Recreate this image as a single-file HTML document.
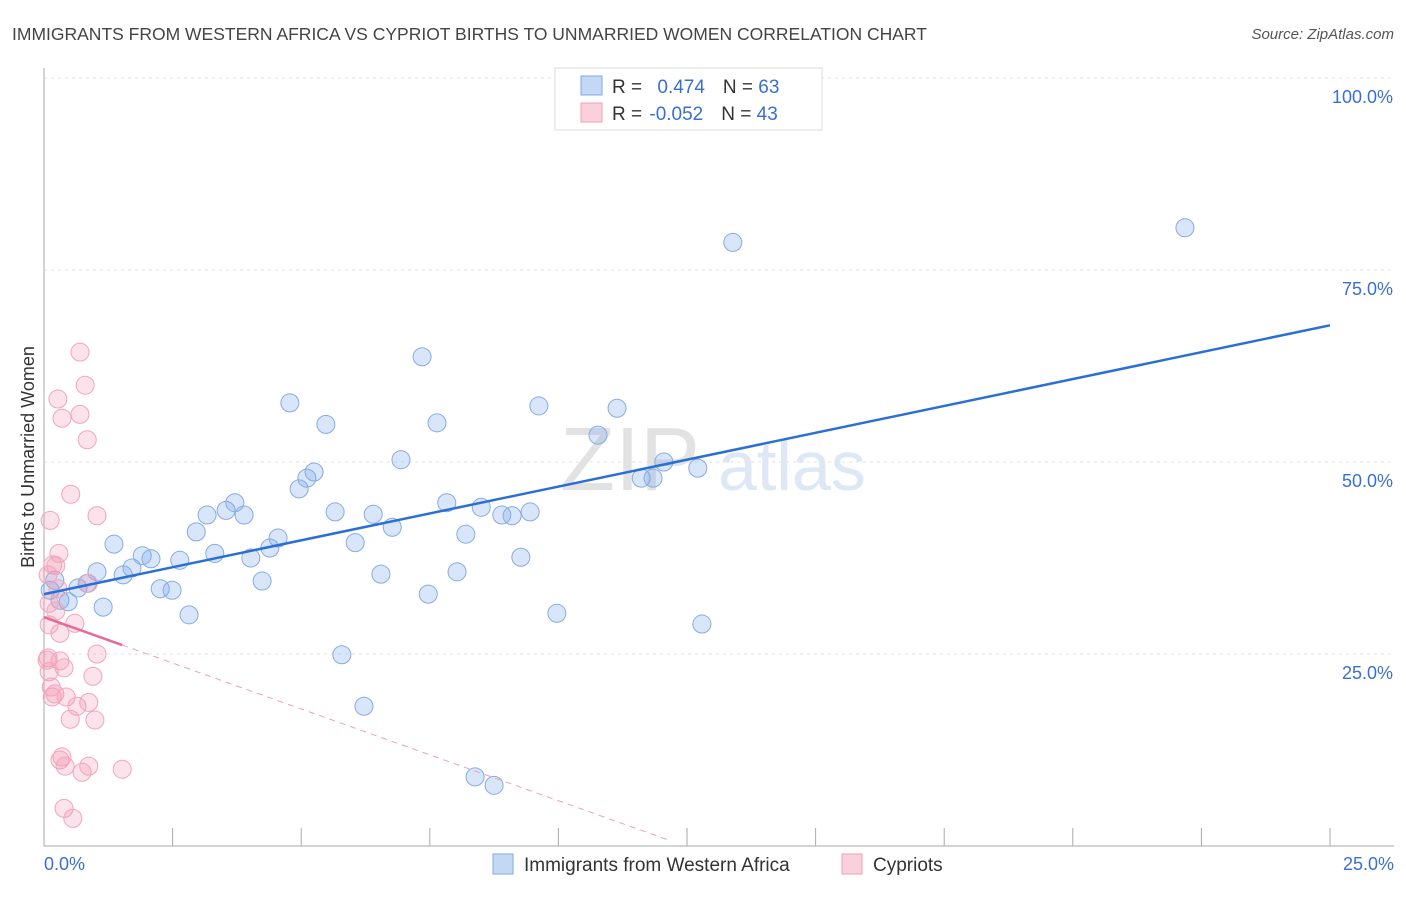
<!DOCTYPE html>
<html><head><meta charset="utf-8"><style>
body{margin:0;background:#fff;font-family:"Liberation Sans",sans-serif}
svg text{font-family:"Liberation Sans",sans-serif}
</style></head><body>
<svg id="chart" width="1406" height="892">
<text x="12" y="40" font-size="17.5" fill="#444">IMMIGRANTS FROM WESTERN AFRICA VS CYPRIOT BIRTHS TO UNMARRIED WOMEN CORRELATION CHART</text>
<text x="1394" y="39" font-size="15" fill="#555" font-style="italic" text-anchor="end">Source: ZipAtlas.com</text>
<text x="560" y="490" font-size="90" fill="#e2e2e2" font-family="Liberation Serif">ZIP</text>
<text x="718" y="490" font-size="70" fill="#dde7f6">atlas</text>
<g id="grid"></g>
<g id="axes"></g>
<text transform="translate(34,457) rotate(-90)" font-size="18" fill="#333" text-anchor="middle">Births to Unmarried Women</text>
<g id="marks"></g>
<g>
<rect x="555" y="68" width="267" height="62" fill="#fff" stroke="#ddd"/>
<rect x="581" y="76" width="21" height="19" fill="#c4d8f5" stroke="#7fa8e0"/>
<rect x="581" y="103" width="21" height="19" fill="#fad0dc" stroke="#f0a0b8"/>
<text x="612" y="93" font-size="19" fill="#333">R = <tspan fill="#3a6fd0" dx="10">0.474</tspan><tspan dx="18" fill="#333">N = </tspan><tspan fill="#3a6fd0">63</tspan></text>
<text x="612" y="120" font-size="19" fill="#333">R = <tspan fill="#3a6fd0" dx="2">-0.052</tspan><tspan dx="18" fill="#333">N = </tspan><tspan fill="#3a6fd0">43</tspan></text>
</g>
<g>
<rect x="493" y="854" width="20" height="20" fill="#c4d8f5" stroke="#7fa8e0"/>
<text x="524" y="871" font-size="19" fill="#333">Immigrants from Western Africa</text>
<rect x="842" y="854" width="20" height="20" fill="#fad0dc" stroke="#f0a0b8"/>
<text x="873" y="871" font-size="19" fill="#333">Cypriots</text>
</g>
</svg>
<script>
const yTicks=[25,50,75,100];
const xTickVals=[0,2.5,5,7.5,10,12.5,15,17.5,20,22.5,25];
const blueX=[0.12,0.21,0.31,0.47,0.66,0.84,1.03,1.15,1.36,1.54,1.71,1.91,2.08,2.26,2.49,2.64,2.82,2.96,3.17,3.32,3.54,3.71,3.89,4.02,4.24,4.39,4.55,4.78,4.96,5.11,5.25,5.48,5.66,5.79,6.05,6.22,6.40,6.55,6.77,6.94,7.35,7.47,7.64,7.83,8.03,8.20,8.38,8.50,8.75,8.90,9.10,9.27,9.45,9.62,9.97,10.77,11.14,11.61,11.84,12.05,12.71,12.79,13.39,22.18];
const blueY=[33.3,34.6,32.0,31.8,33.6,34.2,35.7,31.1,39.3,35.3,36.2,37.8,37.4,33.5,33.3,37.2,30.1,40.9,43.1,38.1,43.7,44.7,43.1,37.5,34.5,38.8,40.1,57.7,46.5,47.9,48.7,54.9,43.5,24.9,39.5,18.2,43.2,35.4,41.5,50.3,63.7,32.8,55.1,44.7,35.7,40.6,9.0,44.1,7.9,43.1,43.0,37.6,43.5,57.3,30.3,53.5,57.0,47.9,47.9,50.0,49.2,28.9,78.6,80.5];
const pinkX=[0.10,0.12,0.10,0.08,0.10,0.16,0.21,0.17,0.23,0.27,0.29,0.27,0.31,0.31,0.35,0.39,0.35,0.31,0.39,0.41,0.43,0.51,0.52,0.56,0.60,0.64,0.70,0.70,0.74,0.80,0.84,0.86,0.87,0.87,0.95,0.99,1.03,1.03,1.52,0.08,0.14,0.23,0.06];
const pinkY=[31.6,42.4,28.8,24.5,22.7,19.4,19.8,36.6,36.5,58.2,38.1,33.5,27.7,24.1,55.7,23.2,11.6,11.2,4.9,10.4,19.4,16.5,45.8,3.6,29.0,18.2,56.2,64.3,9.6,60.0,52.9,34.2,18.7,10.4,22.1,16.4,25.0,43.0,10.0,35.3,20.7,30.6,24.2];
const blueTrend=[32.8,67.8];
const pinkTrend=[29.8,0.8];
const pinkSolidEnd=1.52, pinkDashEnd=12.13;
const X=v=>44+v/25*1286, Y=v=>846-v/100*768;
const NS="http://www.w3.org/2000/svg";
function mk(p,t,a){const e=document.createElementNS(NS,t);for(const k in a)e.setAttribute(k,a[k]);document.getElementById(p).appendChild(e);return e;}
yTicks.forEach(t=>{
 const l=mk('grid','line',{x1:44,x2:1394,y1:Y(t),y2:Y(t),stroke:'#e2e2e2','stroke-dasharray':'3,4'});
 
 
 const tx=mk('grid','text',{x:1393,y:Y(t)+25,'font-size':18,fill:'#3a6fd0','text-anchor':'end'});
 tx.textContent=t.toFixed(1)+'%';
 
 
});
const ya=mk('axes','line',{x1:44,x2:44,y1:68,y2:846,stroke:'#aaa'});


const xa=mk('axes','line',{x1:44,x2:1394,y1:846,y2:846,stroke:'#aaa'});


xTickVals.forEach(t=>{
 const l=mk('axes','line',{x1:X(t),x2:X(t),y1:828,y2:846,stroke:'#aaa'});
 
 
});
[[0,'start',44,'0.0%'],[25,'end',1394,'25.0%']].forEach(d=>{
 const tx=mk('axes','text',{x:d[2],y:870,'font-size':18,fill:'#3a6fd0','text-anchor':d[1]});
 tx.textContent=d[3];
 
 
});
blueX.forEach((x,i)=>{
 const c=mk('marks','circle',{cx:X(x),cy:Y(blueY[i]),r:9,fill:'rgba(120,165,235,0.28)',stroke:'#86ace2','stroke-width':1});
 
 
});
pinkX.forEach((x,i)=>{
 const c=mk('marks','circle',{cx:X(x),cy:Y(pinkY[i]),r:9,fill:'rgba(245,150,180,0.28)',stroke:'#f0a6bd','stroke-width':1});
 
 
});
const bt=mk('marks','line',{x1:X(0),y1:Y(blueTrend[0]),x2:X(25),y2:Y(blueTrend[1]),stroke:'#2a6fd6','stroke-width':2.5});


const pv=x=>pinkTrend[0]+(pinkTrend[1]-pinkTrend[0])*x/pinkDashEnd;
const ps=mk('marks','line',{x1:X(0),y1:Y(pv(0)),x2:X(pinkSolidEnd),y2:Y(pv(pinkSolidEnd)),stroke:'#e86a94','stroke-width':2.5});


const pd=mk('marks','line',{x1:X(pinkSolidEnd),y1:Y(pv(pinkSolidEnd)),x2:X(pinkDashEnd),y2:Y(pv(pinkDashEnd)),stroke:'#f0a0b8','stroke-width':1,'stroke-dasharray':'6,5'});


</script>
</body></html>
